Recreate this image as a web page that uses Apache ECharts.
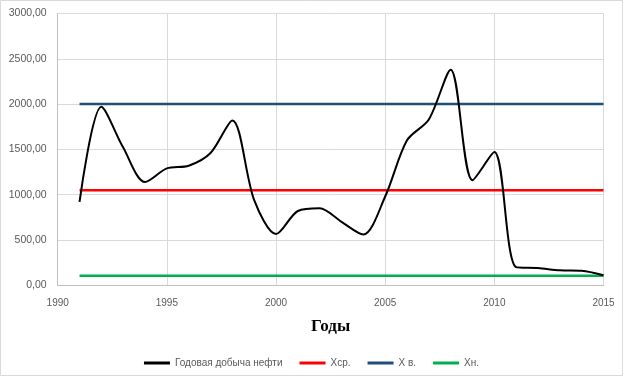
<!DOCTYPE html>
<html>
<head>
<meta charset="utf-8">
<script src="https://cdn.jsdelivr.net/npm/echarts@6/dist/echarts.min.js"></script>
<style>
html,body{margin:0;padding:0;background:#fff;}
#chart{width:623px;height:376px;}
</style>
</head>
<body>
<div id="chart"></div>
<script>
// Data
var years = [1991,1992,1993,1994,1995,1996,1997,1998,1999,2000,2001,2002,2003,2004,2005,2006,2007,2008,2009,2010,2011,2012,2013,2014,2015];
var production = [920,1970,1520,1140,1290,1320,1460,1820,940,565,820,850,700,560,980,1600,1830,2380,1160,1470,200,190,165,160,110];
var xMean = 1050;   // Xср.
var xUpper = 2000;  // X в.
var xLower = 105;   // Xн.
var seriesNames = ['Годовая добыча нефти', 'Xср.', 'X в.', 'Xн.'];
var xTickLabels = [1990, 1995, 2000, 2005, 2010, 2015];
var yTickLabels = ['0,00','500,00','1000,00','1500,00','2000,00','2500,00','3000,00'];
var axisTitle = 'Годы';

function pairs(vals) { return years.map(function (y, i) { return [y, vals[i]]; }); }
function constant(v) { return years.map(function (y) { return [y, v]; }); }

var chart = echarts.init(document.getElementById('chart'), null, {renderer: 'canvas'});
var font = 'Liberation Sans';
chart.setOption({
  animation: false,
  backgroundColor: '#ffffff',
  grid: {left: 57.7, right: 19.5, top: 13.5, bottom: 90.7},
  xAxis: {
    type: 'value', min: 1990, max: 2015, interval: 5,
    axisLine: {show: true, lineStyle: {color: '#bfbfbf', width: 1}},
    axisTick: {show: false},
    splitLine: {show: true, lineStyle: {color: '#d9d9d9', width: 1}},
    axisLabel: {color: '#595959', fontFamily: font, fontSize: 10, margin: 13,
      formatter: function (v) { var i = xTickLabels.indexOf(v); return i >= 0 ? String(xTickLabels[i]) : ''; }},
    name: axisTitle, nameLocation: 'middle', nameGap: 33,
    nameTextStyle: {fontFamily: 'Liberation Serif', fontWeight: 'bold', fontSize: 17, color: '#000'}
  },
  yAxis: {
    type: 'value', min: 0, max: 3000, interval: 500,
    axisLine: {show: true, lineStyle: {color: '#bfbfbf', width: 1}},
    axisTick: {show: false},
    splitLine: {show: true, lineStyle: {color: '#d9d9d9', width: 1}},
    axisLabel: {color: '#595959', fontFamily: font, fontSize: 10.5, margin: 11,
      formatter: function (v) { return yTickLabels[Math.round(v / 500)]; }}
  },
  legend: {
    left: 'center', top: 353, itemWidth: 26, itemHeight: 3, itemGap: 17,
    icon: 'rect',
    textStyle: {color: '#595959', fontFamily: font, fontSize: 10},
    data: seriesNames
  },
  graphic: [{
    type: 'rect', silent: true, z: -1,
    shape: {x: 0.5, y: 0.5, width: 622, height: 375},
    style: {fill: 'none', stroke: '#d9d9d9', lineWidth: 1}
  }],
  series: [
    {name: seriesNames[0], type: 'line', data: pairs(production), smooth: 0.3, showSymbol: false,
      lineStyle: {color: '#000000', width: 2}, itemStyle: {color: '#000000'}, z: 5},
    {name: seriesNames[1], type: 'line', data: constant(xMean), showSymbol: false,
      lineStyle: {color: '#ff0000', width: 2.5}, itemStyle: {color: '#ff0000'}},
    {name: seriesNames[2], type: 'line', data: constant(xUpper), showSymbol: false,
      lineStyle: {color: '#1f4e79', width: 2.5}, itemStyle: {color: '#1f4e79'}},
    {name: seriesNames[3], type: 'line', data: constant(xLower), showSymbol: false,
      lineStyle: {color: '#00b050', width: 2.5}, itemStyle: {color: '#00b050'}}
  ]
});
</script>
</body>
</html>
